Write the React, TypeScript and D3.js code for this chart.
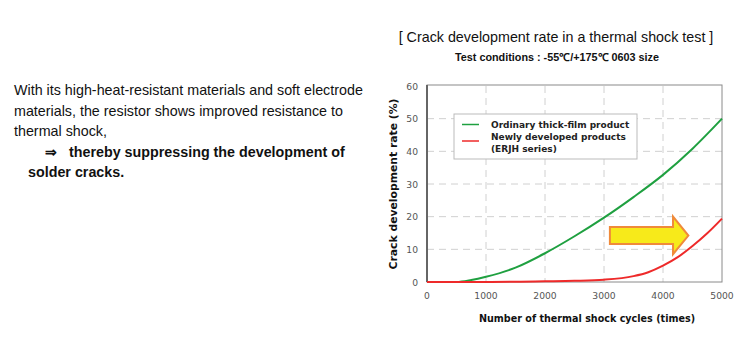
import React from "react";
import * as d3 from "d3";

const xTicks = [0, 1000, 2000, 3000, 4000, 5000];
const yTicks = [0, 10, 20, 30, 40, 50, 60];

const ordinaryX = [0, 500, 750, 1000, 1500, 2000, 2500, 3000, 3500, 4000, 4500, 5000];
const ordinaryY = [0, 0, 0.6, 1.6, 4.4, 8.8, 14, 19.7, 26, 32.8, 40.8, 50];

const newX = [0, 1000, 2000, 2500, 3000, 3500, 3750, 4000, 4250, 4500, 4750, 5000];
const newY = [0, 0, 0.2, 0.35, 0.7, 1.8, 3.0, 5.0, 7.6, 11.0, 14.9, 19.4];

const baseX = [0, 600];
const baseY = [0, 0];

const legendLabels = ["Ordinary thick-film product", "Newly developed products", "(ERJH series)"];

const descLines = [
  "With its high-heat-resistant materials and soft electrode",
  "materials, the resistor shows improved resistance to",
  "thermal shock,",
];
const descBold = ["thereby suppressing the development of", "solder cracks."];

export default function App() {
  const W = 750, H = 357;
  const left = 427, right = 722, top = 86, bottom = 282;
  const x = d3.scaleLinear().domain([0, 5000]).range([left, right]);
  const y = d3.scaleLinear().domain([0, 60]).range([bottom, top]);
  const line = d3
    .line<[number, number]>()
    .x((d) => x(d[0]))
    .y((d) => y(d[1]))
    .curve(d3.curveMonotoneX);
  const zip = (a: number[], b: number[]) => a.map((v, i) => [v, b[i]] as [number, number]);

  const tickFont = "'DejaVu Sans', Verdana, sans-serif";
  const arial = "'Liberation Sans', Arial, sans-serif";

  // arrow geometry in data space
  const ax0 = x(3100), ax1 = x(4170), axTip = x(4430);
  const ayTop = y(16.8), ayBot = y(11.6), ahTop = y(20), ahBot = y(8.5), ayMid = y(14.2);

  return (
    <svg width={W} height={H} style={{ position: "absolute", left: 0, top: 0, background: "#fff" }}>
      {/* description text */}
      <g fontFamily={arial} fontSize={14.3} fill="#111">
        {descLines.map((t, i) => (
          <text key={i} x={14} y={95 + i * 20.5}>{t}</text>
        ))}
        <text x={45} y={156.5} fontWeight="bold">⇒</text>
        <text x={69} y={156.5} fontWeight="bold">{descBold[0]}</text>
        <text x={28} y={177} fontWeight="bold">{descBold[1]}</text>
      </g>

      {/* titles */}
      <text x={556} y={42} textAnchor="middle" fontFamily={arial} fontSize={14.3} fill="#111">
        [ Crack development rate in a thermal shock test ]
      </text>
      <text x={557} y={61} textAnchor="middle" fontFamily={arial} fontSize={10.8} fontWeight="bold" fill="#111">
        Test conditions : -55℃/+175℃ 0603 size
      </text>

      {/* gridlines */}
      <g stroke="#d0d0d0" strokeDasharray="7,5" strokeWidth={1}>
        {xTicks.slice(1, -1).map((t) => (
          <line key={"gx" + t} x1={x(t)} x2={x(t)} y1={top} y2={bottom} />
        ))}
        {yTicks.slice(1, -1).map((t) => (
          <line key={"gy" + t} x1={left} x2={right} y1={y(t)} y2={y(t)} />
        ))}
      </g>

      {/* frame */}
      <rect x={left} y={top - 1} width={right - left} height={bottom - top + 1} fill="none" stroke="#8a8a8a" strokeWidth={1} />
      <line x1={left} x2={left} y1={top - 1} y2={bottom} stroke="#666" strokeWidth={2} />

      {/* tick labels */}
      <g fontFamily={tickFont} fontSize={9.2} fill="#555">
        {yTicks.map((t) => (
          <text key={"ty" + t} x={418} y={y(t) + 3.5} textAnchor="end">{t}</text>
        ))}
        {xTicks.map((t) => (
          <text key={"tx" + t} x={x(t)} y={299} textAnchor="middle">{t}</text>
        ))}
      </g>

      {/* axis titles */}
      <text
        transform={`translate(397,${184}) rotate(-90)`}
        textAnchor="middle"
        fontFamily={tickFont}
        fontSize={10.8}
        fontWeight="bold"
        fill="#111"
      >
        Crack development rate (%)
      </text>
      <text x={587} y={322} textAnchor="middle" fontFamily={tickFont} fontSize={9.6} fontWeight="bold" fill="#111">
        Number of thermal shock cycles (times)
      </text>

      {/* series */}
      <path d={line(zip(baseX, baseY)) || ""} fill="none" stroke="#2f6fd0" strokeWidth={2} />
      <path d={line(zip(ordinaryX, ordinaryY)) || ""} fill="none" stroke="#1fa040" strokeWidth={2} />
      <path d={line(zip(newX, newY)) || ""} fill="none" stroke="#ee2a2a" strokeWidth={2} />

      {/* arrow */}
      <path
        d={`M${ax0},${ayTop} L${ax1},${ayTop} L${ax1},${ahTop} L${axTip},${ayMid} L${ax1},${ahBot} L${ax1},${ayBot} L${ax0},${ayBot} Z`}
        fill="#f7ea1a"
        stroke="#f08a3a"
        strokeWidth={2}
        strokeLinejoin="miter"
      />

      {/* legend */}
      <rect x={454} y={114} width={183} height={45} fill="#fff" stroke="#bbb" strokeWidth={1} />
      <line x1={462} x2={479} y1={124.5} y2={124.5} stroke="#1fa040" strokeWidth={1.5} />
      <line x1={462} x2={479} y1={141} y2={141} stroke="#ee2a2a" strokeWidth={1.5} />
      <g fontFamily={tickFont} fontSize={9} fontWeight="bold" fill="#222">
        <text x={491} y={128}>{legendLabels[0]}</text>
        <text x={491} y={140}>{legendLabels[1]}</text>
        <text x={491} y={152}>{legendLabels[2]}</text>
      </g>
    </svg>
  );
}
